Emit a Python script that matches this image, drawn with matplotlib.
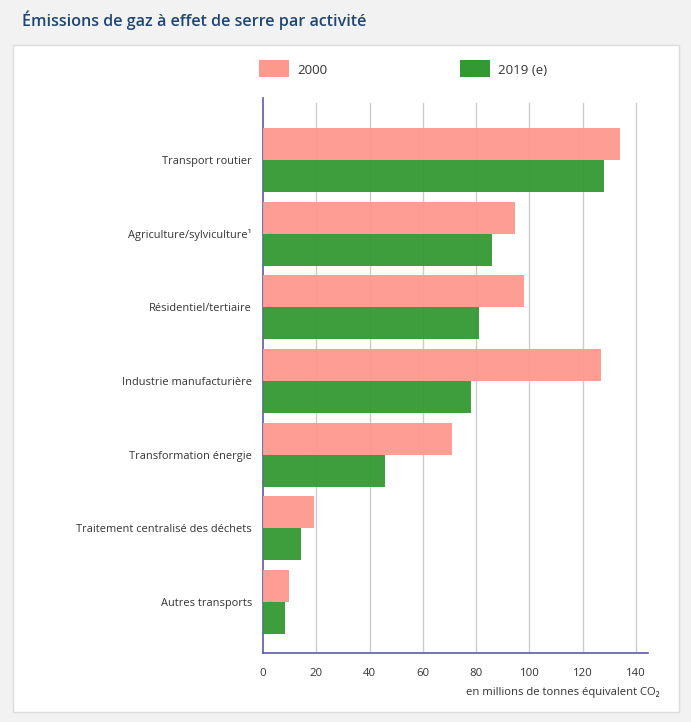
import matplotlib
matplotlib.use("Agg")
import matplotlib.pyplot as plt
from matplotlib.patches import Rectangle
import numpy as np

plt.rcParams['font.family'] = ['Open Sans', 'DejaVu Sans']

#######################################
#      data                           #
#######################################
categories = ['Transport routier', 'Agriculture/sylviculture¹', 'Résidentiel/tertiaire',
              'Industrie manufacturière', 'Transformation énergie',
              'Traitement centralisé des déchets', 'Autres transports']
val_2000 = [134, 94.5, 98, 127, 71, 19.3, 9.7]
val_2019 = [127.8, 85.8, 81, 78, 45.8, 14.2, 8.2]
series_names = ['2000', '2019 (e)']
xticks = [0, 20, 40, 60, 80, 100, 120, 140]

pink = '#fd988d'
green = '#339933'
axis_col = '#5b5ba8'
W, H = 691, 722

fig = plt.figure(figsize=(W / 100, H / 100), dpi=100)
fig.patch.set_facecolor('#f2f2f2')

# white panel
fig.patches.append(Rectangle((13 / W, 1 - 712 / H), 666 / W, 667 / H, transform=fig.transFigure,
                             facecolor='white', edgecolor='#dcdcdc', linewidth=1, zorder=-5))

fig.text(22 / W, 1 - 20 / H, 'Émissions de gaz à effet de serre par activité',
         fontsize=11.6, fontweight='semibold', color='#1f4675', va='center', ha='left')

###############################
#     axes                    #
###############################
left, right, top, bottom = 263, 648, 98, 653
ax = fig.add_axes([left / W, 1 - bottom / H, (right - left) / W, (bottom - top) / H])
ax.set_facecolor('none')
ax.set_zorder(2)

y = np.arange(len(categories))
h = 0.434
ax.barh(y - h / 2, val_2000, height=h, color=pink, alpha=0.95, zorder=3)
ax.barh(y + h / 2, val_2019, height=h, color=green, alpha=0.95, zorder=3)

ax.set_ylim(len(categories) - 1 + 0.69, -0.84)
ax.set_xlim(0, 144.5)
ax.set_yticks(y)
ax.set_yticklabels(categories, fontsize=7.9, color='#333333')
ax.set_xticks(xticks)
ax.set_xticklabels([str(t) for t in xticks], fontsize=8.2, color='#333333')
ax.tick_params(axis='both', length=0)
ax.tick_params(axis='y', pad=8)
ax.tick_params(axis='x', pad=11)

for t in xticks[1:]:
    ax.axvline(t, ymin=0, ymax=(bottom - 103) / (bottom - top), color='#cccccc', lw=1, zorder=1)

for s in ['top', 'right']:
    ax.spines[s].set_visible(False)
for s in ['left', 'bottom']:
    ax.spines[s].set_color(axis_col)
    ax.spines[s].set_linewidth(1.2)

fig.text(660 / W, 1 - 692 / H, 'en millions de tonnes équivalent CO₂', fontsize=8.1,
         color='#333333', ha='right', va='center')

###############################
#     legend                  #
###############################
for x0, col, name in [(259, pink, series_names[0]), (460, green, series_names[1])]:
    fig.patches.append(Rectangle((x0 / W, 1 - 77 / H), 30 / W, 17 / H, transform=fig.transFigure,
                                 facecolor=col, edgecolor='none'))
    fig.text((x0 + 38) / W, 1 - 70 / H, name, fontsize=9.6, color='#333333', va='center', ha='left')

fig.savefig('out.png', dpi=100, facecolor=fig.get_facecolor())
